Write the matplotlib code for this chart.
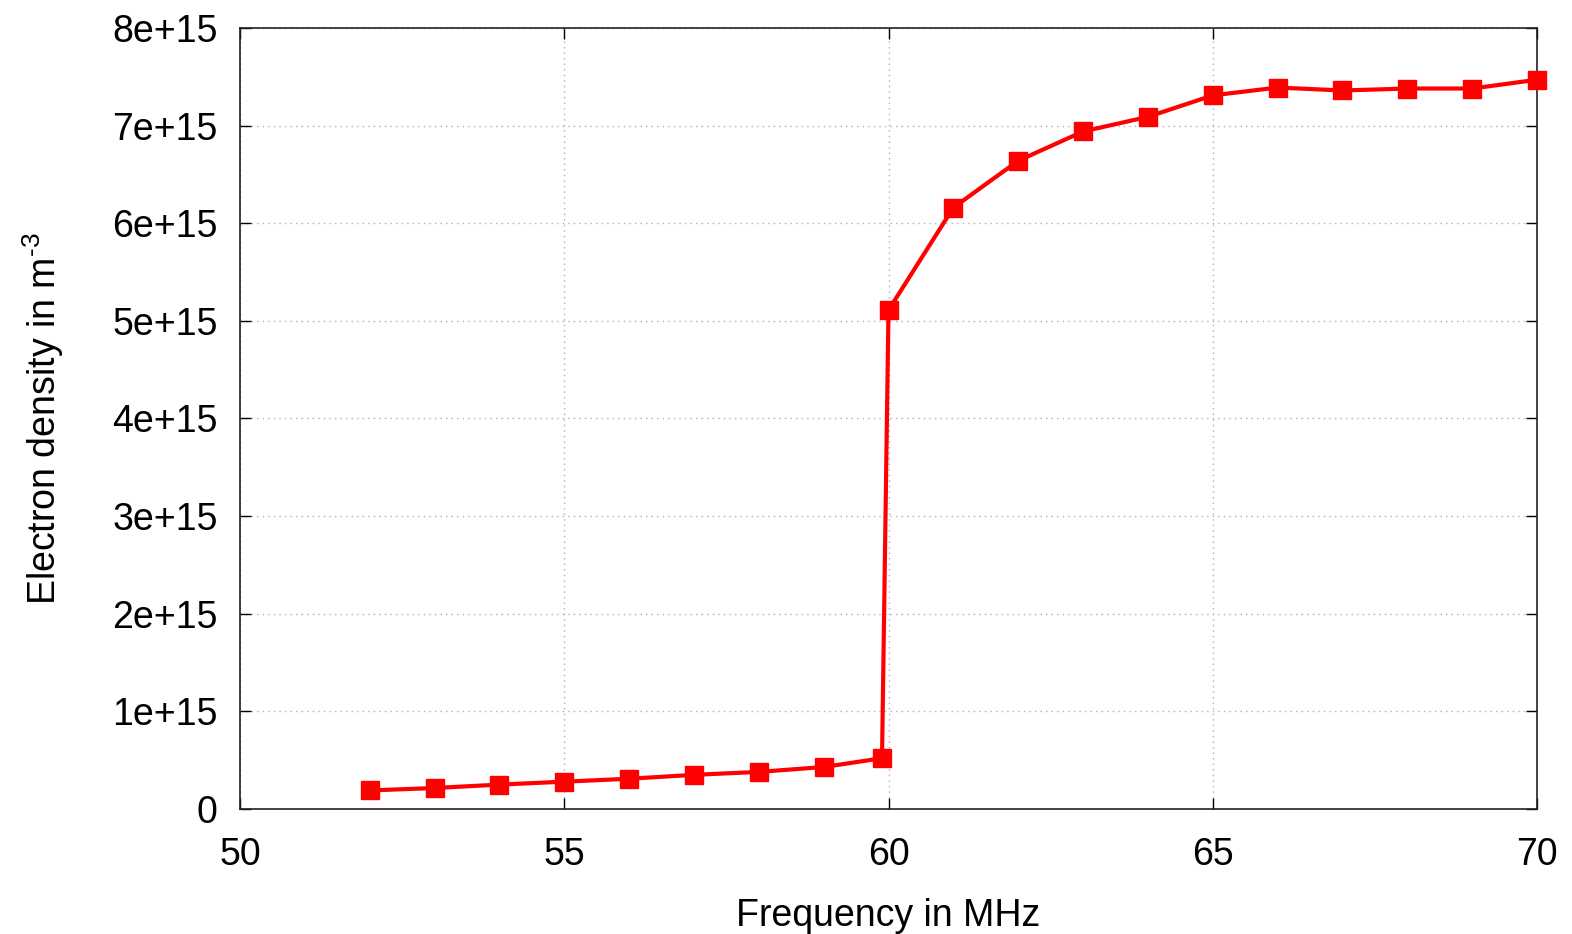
import matplotlib.pyplot as plt

freq = [52, 53, 54, 55, 56, 57, 58, 59, 59.9, 60, 61, 62, 63, 64, 65, 66, 67, 68, 69, 70]
dens = [0.19, 0.215, 0.25, 0.28, 0.31, 0.35, 0.38, 0.43, 0.52, 5.11, 6.16, 6.64, 6.94, 7.09,
        7.31, 7.39, 7.36, 7.38, 7.38, 7.47]
dens = [d * 1e15 for d in dens]

xticks = [50, 55, 60, 65, 70]
yticks = [i * 1e15 for i in range(9)]
ylabels = ['0'] + ['%de+15' % i for i in range(1, 9)]

plt.rcParams['font.family'] = 'Liberation Sans'
plt.rcParams['font.size'] = 27
plt.rcParams['mathtext.fontset'] = 'custom'
plt.rcParams['mathtext.rm'] = 'Liberation Sans'

fig = plt.figure(figsize=(15.72, 9.34), dpi=100)
ax = fig.add_axes([240 / 1572, 1 - 809 / 934, 1297 / 1572, 781 / 934])

ax.plot(freq, dens, color='red', lw=3, marker='s', ms=13, clip_on=False, zorder=3)

ax.set_xlim(50, 70)
ax.set_ylim(0, 8e15)
ax.set_xticks(xticks)
ax.set_yticks(yticks)
ax.set_yticklabels(ylabels)
ax.tick_params(direction='in', length=8, width=1, top=True, right=True, pad=16)
ax.tick_params(axis='x', pad=20)
ax.grid(True, color='#b0b0b0', linestyle=(0, (1, 3)), linewidth=1)
for s in ax.spines.values():
    s.set_linewidth(1.2)
    s.set_color('#222222')

ax.set_xlabel('Frequency in MHz', labelpad=18)
ax.set_ylabel('Electron density in m$^{\\mathregular{\\text{-}3}}$', labelpad=33)

plt.savefig('out.png', dpi=100)
